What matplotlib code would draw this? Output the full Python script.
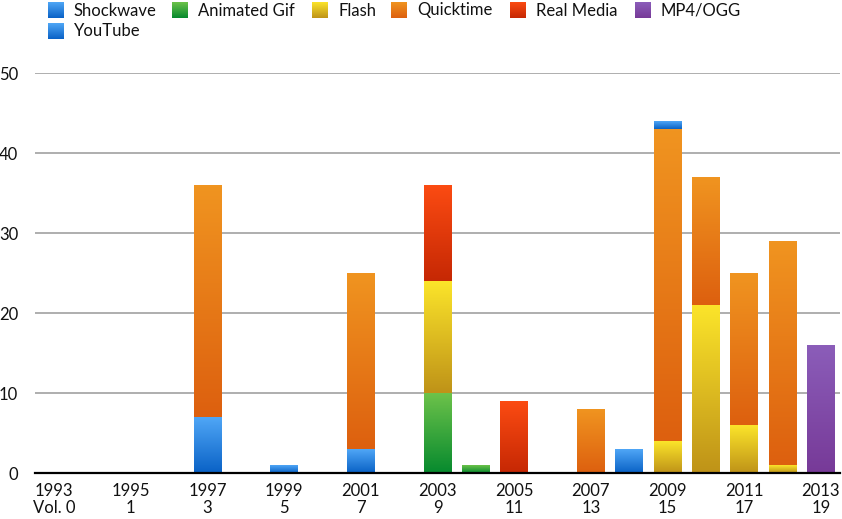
#!/usr/bin/env python3
# -*- coding: utf-8 -*-
import numpy as np
import matplotlib
matplotlib.use("Agg")
import matplotlib.pyplot as plt
from matplotlib.colors import to_rgb

plt.rcParams['font.family'] = ['Lato', 'DejaVu Sans']

years = list(range(1993, 2014))
tick_years = [1993, 1995, 1997, 1999, 2001, 2003, 2005, 2007, 2009, 2011, 2013]
tick_labels = ["1993\nVol. 0", "1995\n1", "1997\n3", "1999\n5", "2001\n7", "2003\n9",
               "2005\n11", "2007\n13", "2009\n15", "2011\n17", "2013\n19"]

#            93 94 95 96 97 98 99 00 01 02 03 04 05 06 07 08 09 10 11 12 13
shockwave = [0, 0, 0, 0, 7, 0, 1, 0, 3, 0, 0, 0, 0, 0, 0, 3, 0, 0, 0, 0, 0]
anim_gif  = [0, 0, 0, 0, 0, 0, 0, 0, 0, 0, 10, 1, 0, 0, 0, 0, 0, 0, 0, 0, 0]
flash     = [0, 0, 0, 0, 0, 0, 0, 0, 0, 0, 14, 0, 0, 0, 0, 0, 4, 21, 6, 1, 0]
quicktime = [0, 0, 0, 0, 29, 0, 0, 0, 22, 0, 0, 0, 0, 0, 8, 0, 39, 16, 19, 28, 0]
realmedia = [0, 0, 0, 0, 0, 0, 0, 0, 0, 0, 12, 0, 9, 0, 0, 0, 0, 0, 0, 0, 0]
mp4_ogg   = [0, 0, 0, 0, 0, 0, 0, 0, 0, 0, 0, 0, 0, 0, 0, 0, 0, 0, 0, 0, 16]
youtube   = [0, 0, 0, 0, 0, 0, 0, 0, 0, 0, 0, 0, 0, 0, 0, 0, 1, 0, 0, 0, 0]

series = [
    ("Shockwave", shockwave, "#4fa6f6", "#0a62c6"),
    ("Animated Gif", anim_gif, "#6cc24a", "#078a2e"),
    ("Flash", flash, "#fbe42a", "#bf9318"),
    ("Quicktime", quicktime, "#f09420", "#dd600f"),
    ("Real Media", realmedia, "#fb4b12", "#c62804"),
    ("MP4/OGG", mp4_ogg, "#8b5db9", "#773a98"),
    ("YouTube", youtube, "#4fa6f6", "#0a62c6"),
]

def gradient(top, bottom, n=64):
    t = np.linspace(0, 1, n)[:, None, None]
    a = np.array(to_rgb(top))[None, None, :]
    b = np.array(to_rgb(bottom))[None, None, :]
    return a * (1 - t) + b * t

W, H = 842, 519
fig = plt.figure(figsize=(W / 100, H / 100), dpi=100)
ax = fig.add_axes([35 / W, (H - 473) / H, 805 / W, 400 / H])

x = np.arange(len(years))
bottom = np.zeros(len(years))
for name, vals, c1, c2 in series:
    vals = np.array(vals, dtype=float)
    bars = ax.bar(x, vals, width=0.73, bottom=bottom, color='none', edgecolor='none', zorder=3)
    for rect, v in zip(bars, vals):
        if v <= 0:
            continue
        x0, y0 = rect.get_x(), rect.get_y()
        im = ax.imshow(gradient(c1, c2), extent=[x0, x0 + rect.get_width(), y0, y0 + rect.get_height()],
                       aspect='auto', interpolation='bilinear', zorder=3)
        im.set_clip_path(rect)
    bottom += vals

ax.set_xlim(-0.5, len(years) - 0.5)
ax.set_ylim(0, 50)
ax.set_yticks([0, 10, 20, 30, 40, 50])
ax.set_xticks([years.index(y) for y in tick_years])
ax.set_xticklabels(tick_labels, fontsize=12, linespacing=1.1)
ax.tick_params(axis='both', length=0, labelsize=12, colors='#111111')
ax.tick_params(axis='y', pad=12)
ax.tick_params(axis='x', pad=7)
for lab in ax.get_xticklabels():
    lab.set_horizontalalignment('center')
for s in ['top', 'right', 'left']:
    ax.spines[s].set_visible(False)
ax.spines['bottom'].set_linewidth(1.6)
ax.spines['bottom'].set_color('black')
ax.spines['bottom'].set_zorder(5)
ax.yaxis.grid(True, color='#999999', linewidth=1.1, zorder=0)
ax.set_axisbelow(True)

# legend drawn by hand, in pixel coordinates
lax = fig.add_axes([0, 0, 1, 1], zorder=10)
lax.set_xlim(0, W)
lax.set_ylim(H, 0)
lax.axis('off')
legend_pos = [(48, 2), (172, 2), (312, 2), (391, 2), (510, 2), (635, 2), (48, 23)]
for (name, vals, c1, c2), (px, py) in zip(series, legend_pos):
    lax.imshow(gradient(c1, c2), extent=[px, px + 16, py + 16, py], aspect='auto',
               interpolation='bilinear')
    lax.text(px + 26, py + 8.5, name, fontsize=12, va='center', ha='left', color='#111111')
lax.set_xlim(0, W)
lax.set_ylim(H, 0)

fig.savefig("out.png", dpi=100)
